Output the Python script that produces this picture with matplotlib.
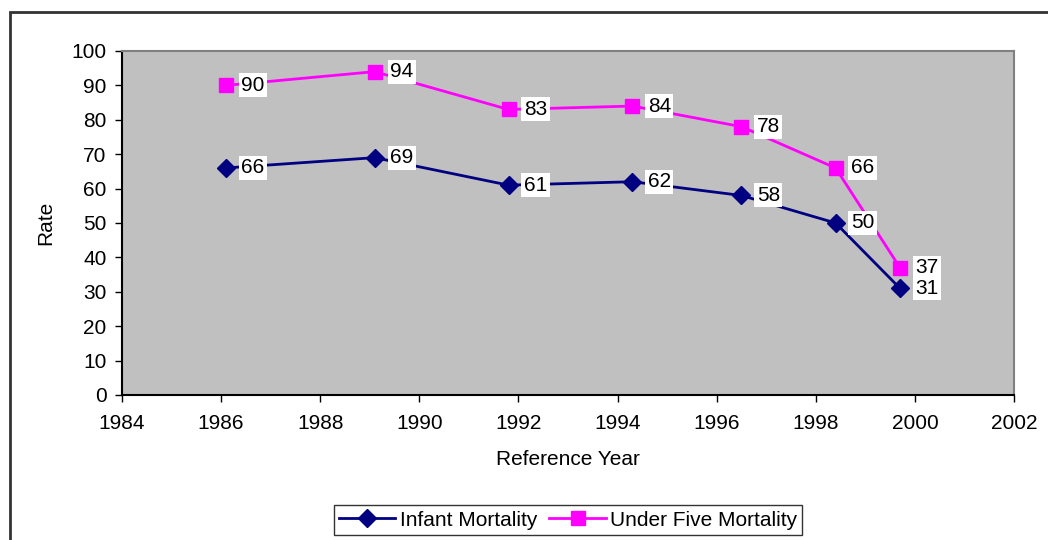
import matplotlib
matplotlib.use("Agg")
import matplotlib.pyplot as plt
from matplotlib.patches import Rectangle

# data
years = [1986.1, 1989.1, 1991.8, 1994.3, 1996.5, 1998.4, 1999.7]
infant = [66, 69, 61, 62, 58, 50, 31]
under_five = [90, 94, 83, 84, 78, 66, 37]
x_ticks = [1984, 1986, 1988, 1990, 1992, 1994, 1996, 1998, 2000, 2002]
y_ticks = [0, 10, 20, 30, 40, 50, 60, 70, 80, 90, 100]

plt.rcParams["font.family"] = ["Liberation Sans", "DejaVu Sans"]
fs = 15

fig = plt.figure(figsize=(10.48, 5.4), dpi=100)
ax = fig.add_axes([122 / 1048, 1 - 395 / 540, 892 / 1048, 344 / 540])
ax.set_facecolor("#c0c0c0")

# outer chart frame (cut off at right and bottom like the original)
fig.patches.append(Rectangle((10 / 1048, -0.1), 1.2, 1 - 12 / 540 + 0.1,
                             transform=fig.transFigure, fill=False,
                             edgecolor="#333333", linewidth=2))

navy = "#000080"
magenta = "#ff00ff"
ax.plot(years, infant, color=navy, lw=2, marker="D", ms=9,
        label="Infant Mortality", zorder=3)
ax.plot(years, under_five, color=magenta, lw=2, marker="s", ms=10,
        label="Under Five Mortality", zorder=3)

box = dict(boxstyle="square,pad=0.12", fc="white", ec="none")
for x, y in zip(years, infant):
    ax.annotate(str(y), (x, y), xytext=(11, 0), textcoords="offset points",
                va="center", ha="left", fontsize=fs, bbox=box, zorder=4)
for x, y in zip(years, under_five):
    ax.annotate(str(y), (x, y), xytext=(11, 0), textcoords="offset points",
                va="center", ha="left", fontsize=fs, bbox=box, zorder=4)

ax.set_xlim(1984, 2002)
ax.set_ylim(0, 100)
ax.set_xticks(x_ticks)
ax.set_yticks(y_ticks)
ax.tick_params(labelsize=fs, direction="out", length=5, width=1)
ax.tick_params(axis="x", pad=9)
ax.tick_params(axis="y", pad=6)
ax.spines["left"].set_color("black")
ax.spines["bottom"].set_color("black")
ax.spines["top"].set_color("#808080")
ax.spines["right"].set_color("#808080")
for s in ax.spines.values():
    s.set_linewidth(1.5)

ax.set_xlabel("Reference Year", fontsize=fs, labelpad=12)
ax.set_ylabel("Rate", fontsize=fs, labelpad=12)

leg = fig.legend(loc="center", bbox_to_anchor=(568 / 1048, 1 - 520 / 540),
                 ncol=2, fontsize=fs, frameon=True, fancybox=False,
                 edgecolor="black", borderpad=0.25, columnspacing=0.6,
                 handlelength=2.7, handletextpad=0.2, borderaxespad=0)
leg.get_frame().set_linewidth(1)

fig.savefig("out.png", dpi=100, facecolor="white")
